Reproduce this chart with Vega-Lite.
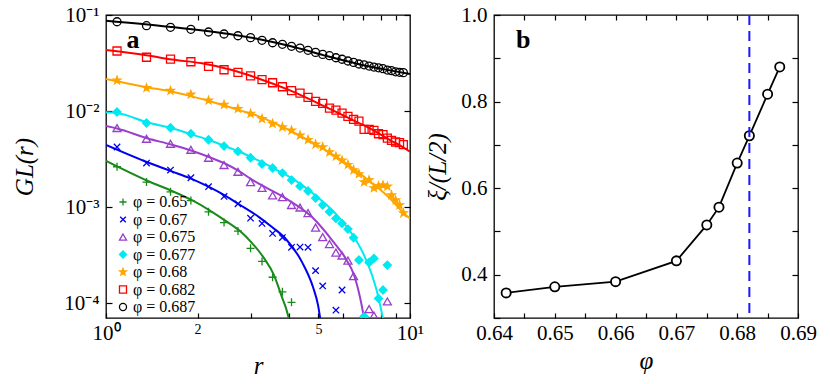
{
  "$schema": "https://vega.github.io/schema/vega-lite/v6.json",
  "padding": {"left": 12, "top": 3, "right": 5, "bottom": 5},
  "spacing": 0,
  "resolve": {"scale": {"color": "independent", "shape": "independent", "stroke": "independent", "fill": "independent"}},
  "config": {
    "font": "Liberation Serif",
    "view": {"stroke": "#000", "strokeWidth": 1.3},
    "axis": {"grid": false, "domain": false, "tickColor": "#000", "tickWidth": 1.2, "labelColor": "#000", "titleColor": "#000", "labelFont": "Liberation Serif", "titleFont": "Liberation Serif", "labelFontSize": 21, "titleFontSize": 25, "titleFontWeight": "normal", "titleFontStyle": "italic", "labelFlush": false, "labelOverlap": false},
    "legend": {"labelFont": "Liberation Serif", "titleFont": "Liberation Serif"},
    "text": {"font": "Liberation Serif"}
  },
  "datasets": {
    "pts": [
      {"s": "0.687", "r": 1.087, "G": 0.0851}, {"s": "0.687", "r": 1.359, "G": 0.0774}, {"s": "0.687", "r": 1.630, "G": 0.0745}, {"s": "0.687", "r": 1.902, "G": 0.0710},
      {"s": "0.687", "r": 2.174, "G": 0.0665}, {"s": "0.687", "r": 2.445, "G": 0.0634}, {"s": "0.687", "r": 2.717, "G": 0.0608}, {"s": "0.687", "r": 2.989, "G": 0.0581},
      {"s": "0.687", "r": 3.260, "G": 0.0545}, {"s": "0.687", "r": 3.532, "G": 0.0514}, {"s": "0.687", "r": 3.804, "G": 0.0495}, {"s": "0.687", "r": 4.076, "G": 0.0472},
      {"s": "0.687", "r": 4.347, "G": 0.0453}, {"s": "0.687", "r": 4.619, "G": 0.0429}, {"s": "0.687", "r": 4.891, "G": 0.0408}, {"s": "0.687", "r": 5.162, "G": 0.0389},
      {"s": "0.687", "r": 5.434, "G": 0.0377}, {"s": "0.687", "r": 5.706, "G": 0.0359}, {"s": "0.687", "r": 5.977, "G": 0.0346}, {"s": "0.687", "r": 6.249, "G": 0.0332},
      {"s": "0.687", "r": 6.521, "G": 0.0321}, {"s": "0.687", "r": 6.793, "G": 0.0309}, {"s": "0.687", "r": 7.064, "G": 0.0303}, {"s": "0.687", "r": 7.336, "G": 0.0294},
      {"s": "0.687", "r": 7.608, "G": 0.0287}, {"s": "0.687", "r": 7.879, "G": 0.0282}, {"s": "0.687", "r": 8.151, "G": 0.0276}, {"s": "0.687", "r": 8.423, "G": 0.0267},
      {"s": "0.687", "r": 8.694, "G": 0.0263}, {"s": "0.687", "r": 8.966, "G": 0.0256}, {"s": "0.687", "r": 9.238, "G": 0.0253}, {"s": "0.687", "r": 9.510, "G": 0.0251},

      {"s": "0.682", "r": 1.087, "G": 0.0422}, {"s": "0.682", "r": 1.359, "G": 0.0363}, {"s": "0.682", "r": 1.630, "G": 0.0348}, {"s": "0.682", "r": 1.902, "G": 0.0326},
      {"s": "0.682", "r": 2.174, "G": 0.0292}, {"s": "0.682", "r": 2.445, "G": 0.0269}, {"s": "0.682", "r": 2.717, "G": 0.0253}, {"s": "0.682", "r": 2.989, "G": 0.0232},
      {"s": "0.682", "r": 3.260, "G": 0.0212}, {"s": "0.682", "r": 3.532, "G": 0.0197}, {"s": "0.682", "r": 3.804, "G": 0.0179}, {"s": "0.682", "r": 4.076, "G": 0.0163},
      {"s": "0.682", "r": 4.347, "G": 0.0154}, {"s": "0.682", "r": 4.619, "G": 0.0139}, {"s": "0.682", "r": 4.891, "G": 0.0126}, {"s": "0.682", "r": 5.162, "G": 0.0120},
      {"s": "0.682", "r": 5.434, "G": 0.0107}, {"s": "0.682", "r": 5.706, "G": 0.0102}, {"s": "0.682", "r": 5.977, "G": 0.00953}, {"s": "0.682", "r": 6.249, "G": 0.00881},
      {"s": "0.682", "r": 6.521, "G": 0.00820}, {"s": "0.682", "r": 6.793, "G": 0.00787}, {"s": "0.682", "r": 7.064, "G": 0.00645}, {"s": "0.682", "r": 7.336, "G": 0.00645},
      {"s": "0.682", "r": 7.608, "G": 0.00629}, {"s": "0.682", "r": 7.879, "G": 0.00580}, {"s": "0.682", "r": 8.151, "G": 0.00567}, {"s": "0.682", "r": 8.423, "G": 0.00523},
      {"s": "0.682", "r": 8.694, "G": 0.00495}, {"s": "0.682", "r": 8.966, "G": 0.00476}, {"s": "0.682", "r": 9.238, "G": 0.00468}, {"s": "0.682", "r": 9.510, "G": 0.00446},

      {"s": "0.68", "r": 1.087, "G": 0.0209}, {"s": "0.68", "r": 1.359, "G": 0.0174}, {"s": "0.68", "r": 1.630, "G": 0.0163}, {"s": "0.68", "r": 1.902, "G": 0.0149},
      {"s": "0.68", "r": 2.174, "G": 0.0129}, {"s": "0.68", "r": 2.445, "G": 0.01164}, {"s": "0.68", "r": 2.717, "G": 0.01057}, {"s": "0.68", "r": 2.989, "G": 0.00938},
      {"s": "0.68", "r": 3.260, "G": 0.00831}, {"s": "0.68", "r": 3.532, "G": 0.00738}, {"s": "0.68", "r": 3.804, "G": 0.00681}, {"s": "0.68", "r": 4.076, "G": 0.00629},
      {"s": "0.68", "r": 4.347, "G": 0.00558}, {"s": "0.68", "r": 4.619, "G": 0.00502}, {"s": "0.68", "r": 4.891, "G": 0.00450}, {"s": "0.68", "r": 5.162, "G": 0.00422},
      {"s": "0.68", "r": 5.434, "G": 0.00374}, {"s": "0.68", "r": 5.706, "G": 0.00337}, {"s": "0.68", "r": 5.977, "G": 0.00306}, {"s": "0.68", "r": 6.249, "G": 0.00276},
      {"s": "0.68", "r": 6.521, "G": 0.00243}, {"s": "0.68", "r": 6.793, "G": 0.00221}, {"s": "0.68", "r": 7.064, "G": 0.00182}, {"s": "0.68", "r": 7.336, "G": 0.00191},
      {"s": "0.68", "r": 7.608, "G": 0.00158}, {"s": "0.68", "r": 7.879, "G": 0.00166}, {"s": "0.68", "r": 8.151, "G": 0.00169}, {"s": "0.68", "r": 8.423, "G": 0.00164},
      {"s": "0.68", "r": 8.694, "G": 0.00133}, {"s": "0.68", "r": 8.966, "G": 0.00118}, {"s": "0.68", "r": 9.238, "G": 0.00105}, {"s": "0.68", "r": 9.510, "G": 0.000866},

      {"s": "0.677", "r": 1.087, "G": 0.00977}, {"s": "0.677", "r": 1.359, "G": 0.00750}, {"s": "0.677", "r": 1.630, "G": 0.00670}, {"s": "0.677", "r": 1.902, "G": 0.00581},
      {"s": "0.677", "r": 2.174, "G": 0.00502}, {"s": "0.677", "r": 2.445, "G": 0.00432}, {"s": "0.677", "r": 2.717, "G": 0.00380}, {"s": "0.677", "r": 2.989, "G": 0.00326},
      {"s": "0.677", "r": 3.260, "G": 0.00281}, {"s": "0.677", "r": 3.532, "G": 0.00255}, {"s": "0.677", "r": 3.804, "G": 0.00226}, {"s": "0.677", "r": 4.076, "G": 0.00191},
      {"s": "0.677", "r": 4.347, "G": 0.00165}, {"s": "0.677", "r": 4.619, "G": 0.00147}, {"s": "0.677", "r": 4.891, "G": 0.00124}, {"s": "0.677", "r": 5.162, "G": 0.00105},
      {"s": "0.677", "r": 5.434, "G": 0.000893}, {"s": "0.677", "r": 5.706, "G": 0.000762}, {"s": "0.677", "r": 5.977, "G": 0.000676}, {"s": "0.677", "r": 6.249, "G": 0.000590},
      {"s": "0.677", "r": 6.521, "G": 0.000479}, {"s": "0.677", "r": 6.793, "G": 0.000281}, {"s": "0.677", "r": 7.064, "G": 0.0000725}, {"s": "0.677", "r": 7.336, "G": 0.000265},
      {"s": "0.677", "r": 7.608, "G": 0.000292}, {"s": "0.677", "r": 7.879, "G": 0.000112}, {"s": "0.677", "r": 8.151, "G": 0.000137}, {"s": "0.677", "r": 8.423, "G": 0.000249},

      {"s": "0.675", "r": 1.087, "G": 0.00665}, {"s": "0.675", "r": 1.359, "G": 0.00514}, {"s": "0.675", "r": 1.630, "G": 0.00456}, {"s": "0.675", "r": 1.902, "G": 0.00395},
      {"s": "0.675", "r": 2.174, "G": 0.00326}, {"s": "0.675", "r": 2.445, "G": 0.00274}, {"s": "0.675", "r": 2.717, "G": 0.00233}, {"s": "0.675", "r": 2.989, "G": 0.00182},
      {"s": "0.675", "r": 3.260, "G": 0.00158}, {"s": "0.675", "r": 3.532, "G": 0.00132}, {"s": "0.675", "r": 3.804, "G": 0.00127}, {"s": "0.675", "r": 4.076, "G": 0.00105},
      {"s": "0.675", "r": 4.347, "G": 0.000989}, {"s": "0.675", "r": 4.619, "G": 0.000866}, {"s": "0.675", "r": 4.891, "G": 0.000611}, {"s": "0.675", "r": 5.162, "G": 0.000487},
      {"s": "0.675", "r": 5.434, "G": 0.000412}, {"s": "0.675", "r": 5.706, "G": 0.000336}, {"s": "0.675", "r": 5.977, "G": 0.000313}, {"s": "0.675", "r": 6.249, "G": 0.000277},
      {"s": "0.675", "r": 6.521, "G": 0.000191}, {"s": "0.675", "r": 7.336, "G": 0.0000866}, {"s": "0.675", "r": 7.608, "G": 0.0000741}, {"s": "0.675", "r": 8.423, "G": 0.000104},

      {"s": "0.67", "r": 1.087, "G": 0.00422}, {"s": "0.67", "r": 1.359, "G": 0.00287}, {"s": "0.67", "r": 1.630, "G": 0.00243}, {"s": "0.67", "r": 1.902, "G": 0.00202},
      {"s": "0.67", "r": 2.174, "G": 0.00163}, {"s": "0.67", "r": 2.445, "G": 0.00129}, {"s": "0.67", "r": 2.717, "G": 0.00108}, {"s": "0.67", "r": 2.989, "G": 0.000767},
      {"s": "0.67", "r": 3.260, "G": 0.000676}, {"s": "0.67", "r": 3.532, "G": 0.000532}, {"s": "0.67", "r": 3.804, "G": 0.000481}, {"s": "0.67", "r": 4.076, "G": 0.000381},
      {"s": "0.67", "r": 4.347, "G": 0.000383}, {"s": "0.67", "r": 4.619, "G": 0.000381}, {"s": "0.67", "r": 4.891, "G": 0.000218}, {"s": "0.67", "r": 5.162, "G": 0.000151},
      {"s": "0.67", "r": 5.706, "G": 0.0000845}, {"s": "0.67", "r": 5.977, "G": 0.000137},

      {"s": "0.65", "r": 1.087, "G": 0.00263}, {"s": "0.65", "r": 1.359, "G": 0.00182}, {"s": "0.65", "r": 1.630, "G": 0.00144}, {"s": "0.65", "r": 1.902, "G": 0.00117},
      {"s": "0.65", "r": 2.174, "G": 0.000893}, {"s": "0.65", "r": 2.445, "G": 0.000690}, {"s": "0.65", "r": 2.717, "G": 0.000562}, {"s": "0.65", "r": 2.989, "G": 0.000372},
      {"s": "0.65", "r": 3.260, "G": 0.000272}, {"s": "0.65", "r": 3.532, "G": 0.000186}, {"s": "0.65", "r": 3.804, "G": 0.000131}, {"s": "0.65", "r": 4.076, "G": 0.000102}
    ],
    "fit": [
      {"s": "0.65", "r": 1, "G": 0.00303}, {"s": "0.65", "r": 1.374, "G": 0.00187}, {"s": "0.65", "r": 1.648, "G": 0.00147}, {"s": "0.65", "r": 1.918, "G": 0.00118},
      {"s": "0.65", "r": 2.198, "G": 0.00092}, {"s": "0.65", "r": 2.481, "G": 0.000715}, {"s": "0.65", "r": 2.76, "G": 0.000562}, {"s": "0.65", "r": 3.022, "G": 0.000422},
      {"s": "0.65", "r": 3.309, "G": 0.000294}, {"s": "0.65", "r": 3.569, "G": 0.000196}, {"s": "0.65", "r": 3.793, "G": 0.000115}, {"s": "0.65", "r": 3.909, "G": 0.0000887},
      {"s": "0.65", "r": 4.0, "G": 0.0000681},

      {"s": "0.67", "r": 1, "G": 0.00443}, {"s": "0.67", "r": 1.374, "G": 0.00291}, {"s": "0.67", "r": 1.636, "G": 0.00237}, {"s": "0.67", "r": 1.904, "G": 0.00198},
      {"s": "0.67", "r": 2.182, "G": 0.00162}, {"s": "0.67", "r": 2.481, "G": 0.0013}, {"s": "0.67", "r": 2.739, "G": 0.00107}, {"s": "0.67", "r": 3.186, "G": 0.000787},
      {"s": "0.67", "r": 3.516, "G": 0.000619}, {"s": "0.67", "r": 3.88, "G": 0.000476}, {"s": "0.67", "r": 4.414, "G": 0.000267}, {"s": "0.67", "r": 4.796, "G": 0.000147},
      {"s": "0.67", "r": 4.983, "G": 0.0000953}, {"s": "0.67", "r": 5.07, "G": 0.0000681},

      {"s": "0.675", "r": 1, "G": 0.00698}, {"s": "0.675", "r": 1.087, "G": 0.00658}, {"s": "0.675", "r": 1.374, "G": 0.00518}, {"s": "0.675", "r": 1.636, "G": 0.00448},
      {"s": "0.675", "r": 1.904, "G": 0.00388}, {"s": "0.675", "r": 2.182, "G": 0.00332}, {"s": "0.675", "r": 2.481, "G": 0.00281}, {"s": "0.675", "r": 2.739, "G": 0.00237},
      {"s": "0.675", "r": 3.022, "G": 0.00193}, {"s": "0.675", "r": 3.385, "G": 0.00158}, {"s": "0.675", "r": 3.939, "G": 0.00121}, {"s": "0.675", "r": 4.761, "G": 0.000787},
      {"s": "0.675", "r": 5.539, "G": 0.000453}, {"s": "0.675", "r": 6.158, "G": 0.000287}, {"s": "0.675", "r": 6.544, "G": 0.000196}, {"s": "0.675", "r": 6.848, "G": 0.000115},
      {"s": "0.675", "r": 7.074, "G": 0.0000681},

      {"s": "0.677", "r": 1, "G": 0.00969}, {"s": "0.677", "r": 1.087, "G": 0.00953}, {"s": "0.677", "r": 1.374, "G": 0.00759}, {"s": "0.677", "r": 1.636, "G": 0.00665},
      {"s": "0.677", "r": 1.904, "G": 0.00575}, {"s": "0.677", "r": 2.182, "G": 0.00499}, {"s": "0.677", "r": 2.481, "G": 0.00427}, {"s": "0.677", "r": 2.739, "G": 0.00379},
      {"s": "0.677", "r": 3.022, "G": 0.00328}, {"s": "0.677", "r": 3.309, "G": 0.00287}, {"s": "0.677", "r": 3.651, "G": 0.00243}, {"s": "0.677", "r": 4.03, "G": 0.00205},
      {"s": "0.677", "r": 4.944, "G": 0.00128}, {"s": "0.677", "r": 5.754, "G": 0.000825}, {"s": "0.677", "r": 6.544, "G": 0.000487}, {"s": "0.677", "r": 7.058, "G": 0.000316},
      {"s": "0.677", "r": 7.499, "G": 0.000196}, {"s": "0.677", "r": 7.889, "G": 0.000112}, {"s": "0.677", "r": 8.151, "G": 0.0000681},

      {"s": "0.68", "r": 1, "G": 0.0216}, {"s": "0.68", "r": 1.374, "G": 0.0176}, {"s": "0.68", "r": 1.636, "G": 0.016}, {"s": "0.68", "r": 1.904, "G": 0.0143},
      {"s": "0.68", "r": 2.182, "G": 0.0127}, {"s": "0.68", "r": 2.481, "G": 0.01127}, {"s": "0.68", "r": 2.739, "G": 0.01023}, {"s": "0.68", "r": 3.138, "G": 0.00897},
      {"s": "0.68", "r": 4.03, "G": 0.00626}, {"s": "0.68", "r": 5.213, "G": 0.00402}, {"s": "0.68", "r": 6.348, "G": 0.00267}, {"s": "0.68", "r": 7.385, "G": 0.00185},
      {"s": "0.68", "r": 8.596, "G": 0.00123}, {"s": "0.68", "r": 9.557, "G": 0.000859}, {"s": "0.68", "r": 10, "G": 0.000759},

      {"s": "0.682", "r": 1, "G": 0.0432}, {"s": "0.682", "r": 1.374, "G": 0.0379}, {"s": "0.682", "r": 1.648, "G": 0.0344}, {"s": "0.682", "r": 2.069, "G": 0.0314},
      {"s": "0.682", "r": 2.597, "G": 0.0267}, {"s": "0.682", "r": 3.138, "G": 0.0221}, {"s": "0.682", "r": 4.03, "G": 0.0164}, {"s": "0.682", "r": 5.213, "G": 0.01127},
      {"s": "0.682", "r": 6.694, "G": 0.00768}, {"s": "0.682", "r": 7.613, "G": 0.00626}, {"s": "0.682", "r": 8.596, "G": 0.00499}, {"s": "0.682", "r": 9.412, "G": 0.00427},
      {"s": "0.682", "r": 10, "G": 0.00378},

      {"s": "0.687", "r": 1, "G": 0.0872}, {"s": "0.687", "r": 1.611, "G": 0.0755}, {"s": "0.687", "r": 2.657, "G": 0.0619}, {"s": "0.687", "r": 3.138, "G": 0.0566},
      {"s": "0.687", "r": 4.03, "G": 0.0475}, {"s": "0.687", "r": 5.213, "G": 0.038}, {"s": "0.687", "r": 6.694, "G": 0.0311}, {"s": "0.687", "r": 8.596, "G": 0.0265},
      {"s": "0.687", "r": 10, "G": 0.0243}
    ],
    "xi": [
      {"phi": 0.642, "xi": 0.358}, {"phi": 0.65, "xi": 0.372}, {"phi": 0.66, "xi": 0.384}, {"phi": 0.67, "xi": 0.432},
      {"phi": 0.675, "xi": 0.515}, {"phi": 0.677, "xi": 0.556}, {"phi": 0.68, "xi": 0.658}, {"phi": 0.682, "xi": 0.721},
      {"phi": 0.685, "xi": 0.817}, {"phi": 0.687, "xi": 0.88}
    ],
    "phic": [{"phi": 0.682}],
    "labA": [{"t": "a", "r": 1.227, "G": 0.055}],
    "labB": [{"t": "b", "phi": 0.6448, "xi": 0.942}]
  },
  "hconcat": [
    {
      "width": 304,
      "height": 303,
      "resolve": {"axis": {"x": "independent", "y": "independent"}},
      "layer": [
        {
          "data": {"name": "fit"},
          "mark": {"type": "line", "strokeWidth": 2, "clip": true, "interpolate": "monotone"},
          "encoding": {
            "x": {"field": "r", "type": "quantitative", "scale": {"type": "log", "domain": [1, 10], "nice": false},
                  "axis": {"orient": "bottom", "values": [1, 2, 3, 4, 5, 6, 7, 8, 9, 10], "tickSize": -5, "labelPadding": 9, "titlePadding": 10,
                           "labelExpr": "datum.value == 1 ? '10⁰' : datum.value == 10 ? '10¹' : (datum.value == 2 || datum.value == 5) ? datum.label : ''",
                           "labelFontSize": {"condition": {"test": "datum.value == 2 || datum.value == 5", "value": 14}, "value": 21},
                           "title": "r"}},
            "y": {"field": "G", "type": "quantitative", "scale": {"type": "log", "domain": [0.00007, 0.1], "nice": false},
                  "axis": {"orient": "left", "values": [0.0001, 0.001, 0.01, 0.1], "tickSize": -6, "labelPadding": 13, "titlePadding": 26,
                           "labelExpr": "datum.value < 0.0002 ? '10⁻⁴' : datum.value < 0.002 ? '10⁻³' : datum.value < 0.02 ? '10⁻²' : '10⁻¹'",
                           "title": "GL(r)"}},
            "color": {"field": "s", "type": "nominal",
                      "scale": {"domain": ["0.687", "0.682", "0.68", "0.677", "0.675", "0.67", "0.65"],
                                "range": ["#000000", "#ff0000", "#ffa500", "#00e8f0", "#9a3fcc", "#0000f0", "#1a8a1a"]},
                      "legend": null}
          }
        },
        {
          "data": {"name": "pts"},
          "mark": {"type": "point", "strokeWidth": 1.3, "opacity": 1, "size": 64, "clip": true},
          "encoding": {
            "x": {"field": "r", "type": "quantitative", "scale": {"type": "log", "domain": [1, 10], "nice": false},
                  "axis": {"orient": "top", "values": [2, 3, 4, 5, 6, 7, 8, 9], "tickSize": -5, "labels": false, "title": null}},
            "y": {"field": "G", "type": "quantitative", "scale": {"type": "log", "domain": [0.00007, 0.1], "nice": false},
                  "axis": {"orient": "right", "values": [0.0001, 0.001, 0.01, 0.1], "tickSize": -6, "labels": false, "title": null}},
            "shape": {"field": "s", "type": "nominal",
                      "scale": {"domain": ["0.65", "0.67", "0.675", "0.677", "0.68", "0.682", "0.687"],
                                "range": ["M-1,0L1,0M0,-1L0,1", "M-0.8,-0.8L0.8,0.8M-0.8,0.8L0.8,-0.8", "triangle-up", "diamond",
                                          "M0,-1L0.235,-0.324L0.951,-0.309L0.38,0.124L0.588,0.809L0,0.4L-0.588,0.809L-0.38,0.124L-0.951,-0.309L-0.235,-0.324Z",
                                          "square", "circle"]},
                      "legend": {"title": null, "orient": "none", "legendX": 9, "legendY": 179, "direction": "vertical", "padding": 0, "labelExpr": "'φ = ' + datum.label", "labelFontSize": 16, "labelFont": "Liberation Serif", "labelColor": "#000", "symbolSize": 50, "symbolStrokeWidth": 1.3, "rowPadding": 1.5, "labelOffset": 2}},
            "stroke": {"field": "s", "type": "nominal",
                       "scale": {"domain": ["0.65", "0.67", "0.675", "0.677", "0.68", "0.682", "0.687"],
                                 "range": ["#1a8a1a", "#0000f0", "#9a3fcc", "#00e8f0", "#ffa500", "#ff0000", "#000000"]},
                       "legend": {"title": null, "orient": "none", "legendX": 9, "legendY": 179, "direction": "vertical", "padding": 0, "labelExpr": "'φ = ' + datum.label", "labelFontSize": 16, "labelFont": "Liberation Serif", "labelColor": "#000", "symbolSize": 50, "symbolStrokeWidth": 1.3, "rowPadding": 1.5, "labelOffset": 2}},
            "fill": {"field": "s", "type": "nominal",
                     "scale": {"domain": ["0.65", "0.67", "0.675", "0.677", "0.68", "0.682", "0.687"],
                               "range": ["transparent", "transparent", "transparent", "#00e8f0", "#ffa500", "transparent", "transparent"]},
                     "legend": {"title": null, "orient": "none", "legendX": 9, "legendY": 179, "direction": "vertical", "padding": 0, "labelExpr": "'φ = ' + datum.label", "labelFontSize": 16, "labelFont": "Liberation Serif", "labelColor": "#000", "symbolSize": 50, "symbolStrokeWidth": 1.3, "rowPadding": 1.5, "labelOffset": 2}}
          }
        },
        {
          "data": {"name": "labA"},
          "mark": {"type": "text", "fontSize": 26, "fontWeight": "bold", "color": "#000"},
          "encoding": {
            "x": {"field": "r", "type": "quantitative", "scale": {"type": "log", "domain": [1, 10], "nice": false}, "axis": null},
            "y": {"field": "G", "type": "quantitative", "scale": {"type": "log", "domain": [0.00007, 0.1], "nice": false}, "axis": null},
            "text": {"field": "t"}
          }
        }
      ]
    },
    {
      "width": 304,
      "height": 303,
      "resolve": {"axis": {"x": "independent", "y": "independent"}},
      "layer": [
        {
          "data": {"name": "xi"},
          "mark": {"type": "line", "color": "#000", "strokeWidth": 1.8},
          "encoding": {
            "x": {"field": "phi", "type": "quantitative", "scale": {"domain": [0.64, 0.69], "nice": false, "zero": false},
                  "axis": {"orient": "bottom", "values": [0.64, 0.645, 0.65, 0.655, 0.66, 0.665, 0.67, 0.675, 0.68, 0.685, 0.69], "tickSize": -5, "labelPadding": 9, "titlePadding": 5,
                           "labelExpr": "abs(datum.value*100 - round(datum.value*100)) < 0.01 ? format(datum.value, '.2f') : ''",
                           "title": "φ"}},
            "y": {"field": "xi", "type": "quantitative", "scale": {"domain": [0.3, 1.0], "nice": false, "zero": false},
                  "axis": {"orient": "left", "values": [0.3, 0.4, 0.5, 0.6, 0.7, 0.8, 0.9, 1.0], "tickSize": -6, "labelPadding": 13, "titlePadding": 10,
                           "labelExpr": "abs(datum.value*5 - round(datum.value*5)) < 0.01 ? format(datum.value, '.1f') : ''",
                           "title": "ξ/(L/2)"}}
          }
        },
        {
          "data": {"name": "xi"},
          "mark": {"type": "point", "shape": "circle", "size": 85, "stroke": "#000", "strokeWidth": 1.8, "fill": "#fff", "filled": true, "opacity": 1},
          "encoding": {
            "x": {"field": "phi", "type": "quantitative", "scale": {"domain": [0.64, 0.69], "nice": false, "zero": false},
                  "axis": {"orient": "top", "values": [0.645, 0.65, 0.655, 0.66, 0.665, 0.67, 0.675, 0.68, 0.685], "tickSize": -5, "labels": false, "title": null}},
            "y": {"field": "xi", "type": "quantitative", "scale": {"domain": [0.3, 1.0], "nice": false, "zero": false},
                  "axis": {"orient": "right", "values": [0.4, 0.5, 0.6, 0.7, 0.8, 0.9], "tickSize": -6, "labels": false, "title": null}}
          }
        },
        {
          "data": {"name": "phic"},
          "mark": {"type": "rule", "color": "#1a1aff", "strokeWidth": 2, "strokeDash": [10, 6]},
          "encoding": {
            "x": {"field": "phi", "type": "quantitative", "scale": {"domain": [0.64, 0.69], "nice": false, "zero": false}, "axis": null}
          }
        },
        {
          "data": {"name": "labB"},
          "mark": {"type": "text", "fontSize": 26, "fontWeight": "bold", "color": "#000"},
          "encoding": {
            "x": {"field": "phi", "type": "quantitative", "scale": {"domain": [0.64, 0.69], "nice": false, "zero": false}, "axis": null},
            "y": {"field": "xi", "type": "quantitative", "scale": {"domain": [0.3, 1.0], "nice": false, "zero": false}, "axis": null},
            "text": {"field": "t"}
          }
        }
      ]
    }
  ]
}
